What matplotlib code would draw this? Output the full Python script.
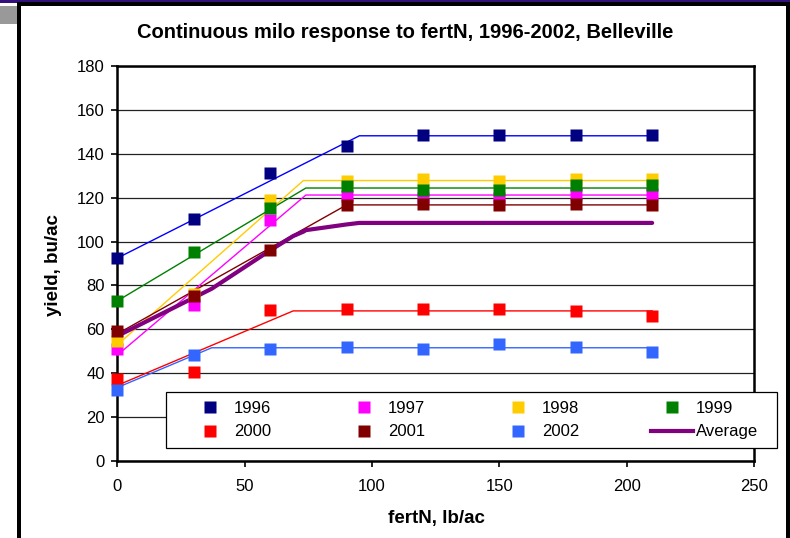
import matplotlib
matplotlib.use("Agg")
import matplotlib.pyplot as plt
from matplotlib.lines import Line2D
from matplotlib.patches import Rectangle

plt.rcParams['font.family'] = ['Liberation Sans', 'DejaVu Sans']

# Data
fert_n = [0, 30, 60, 90, 120, 150, 180, 210]
years = ['1996', '1997', '1998', '1999', '2000', '2001', '2002']
yields = {
    '1996': [92.4, 110.2, 131.1, 143.6, 148.4, 148.4, 148.4, 148.4],
    '1997': [51.0, 71.0, 110.0, 120.8, 120.0, 120.0, 121.5, 121.5],
    '1998': [54.7, 76.0, 119.0, 127.6, 128.6, 127.4, 128.6, 128.6],
    '1999': [72.9, 95.3, 115.2, 125.5, 123.3, 123.3, 126.0, 126.0],
    '2000': [37.4, 40.4, 68.8, 69.3, 69.3, 69.3, 68.5, 66.1],
    '2001': [59.2, 75.2, 96.2, 116.7, 116.9, 116.5, 116.9, 116.5],
    '2002': [32.2, 48.2, 51.2, 52.1, 51.2, 53.2, 52.0, 49.8],
}
# fitted linear-plateau lines: (x vertices, y vertices)
fit_x = {
    '1996': [0, 95, 210], '1997': [0, 74, 210], '1998': [0, 73, 210],
    '1999': [0, 74, 210], '2000': [0, 69, 210], '2001': [0, 90, 210],
    '2002': [0, 37, 210],
}
fit_y = {
    '1996': [92.5, 148.2, 148.2], '1997': [48.3, 121.2, 121.2],
    '1998': [53.0, 127.8, 127.8], '1999': [73.0, 124.4, 124.4],
    '2000': [34.5, 68.4, 68.4], '2001': [58.0, 116.7, 116.7],
    '2002': [33.5, 51.6, 51.6],
}
avg_x = [0, 37, 60, 69, 73, 74, 90, 95, 210]
avg_y = [57.0, 78.5, 96.0, 102.5, 104.5, 105.2, 107.8, 108.5, 108.5]

marker_colors = {'1996': '#000080', '1997': '#FF00FF', '1998': '#FFCC00',
                 '1999': '#008000', '2000': '#FF0000', '2001': '#800000',
                 '2002': '#3366FF'}
line_colors = {'1996': '#0000FF', '1997': '#FF00FF', '1998': '#FFCC00',
               '1999': '#008000', '2000': '#FF0000', '2001': '#800000',
               '2002': '#3366FF'}

W, H = 790, 538
fig = plt.figure(figsize=(W / 100, H / 100), dpi=100)
ax = fig.add_axes([117.5 / W, 1 - 461 / H, (754 - 117.5) / W, (461 - 66) / H])

for yr in years:
    ax.plot(fit_x[yr], fit_y[yr], color=line_colors[yr], lw=1.0, zorder=3)
ax.plot(avg_x, avg_y, color='#800080', lw=3.0, zorder=4, solid_capstyle='round')
for yr in years:
    ax.plot(fert_n, yields[yr], 's', color=marker_colors[yr], ms=8, mec='none',
            zorder=5, clip_on=False)

ax.set_xlim(0, 250)
ax.set_ylim(0, 180)
ax.set_xticks(range(0, 251, 50))
ax.set_yticks(range(0, 181, 20))
ax.yaxis.grid(True, color='#222222', lw=0.9)
ax.set_axisbelow(True)
for s in ax.spines.values():
    s.set_linewidth(1.8)
    s.set_color('black')
ax.tick_params(direction='out', length=4, width=1.2, labelsize=12, color='black')
ax.tick_params(axis='x', pad=9)
ax.tick_params(axis='y', pad=5)

fig.text(405 / W, 1 - 33 / H, 'Continuous milo response to fertN, 1996-2002, Belleville',
         ha='center', va='center', fontsize=14.5, fontweight='bold')
fig.text(54 / W, 1 - 265 / H, 'yield, bu/ac', rotation=90, ha='center', va='center',
         fontsize=13.5, fontweight='bold')
fig.text(436 / W, 1 - 518 / H, 'fertN, lb/ac', ha='center', va='center',
         fontsize=13.5, fontweight='bold')

# legend box
fig.add_artist(Rectangle((165.7 / W, 1 - 448.3 / H), 611 / W, 56 / H,
                         transform=fig.transFigure, facecolor='white',
                         edgecolor='black', lw=0.9, zorder=4))
order = ['1996', '1997', '1998', '1999', '2000', '2001', '2002']
handles = [Line2D([], [], ls='none', marker='s', ms=8, mec='none',
                  color=marker_colors[yr]) for yr in order]
handles.append(Line2D([], [], color='#800080', lw=3))
labels = order + ['Average']
# row-major ordering for ncol=4
idx = [0, 4, 1, 5, 2, 6, 3, 7]
leg = fig.legend([handles[i] for i in idx], [labels[i] for i in idx], ncol=4,
                 loc='center', mode='expand', frameon=False, fontsize=12,
                 handlelength=2.5, handletextpad=0.2, labelspacing=0.5,
                 borderpad=0.0, borderaxespad=0.0,
                 bbox_to_anchor=(189 / W, 1 - 448.3 / H, (758 - 189) / W, 56 / H))
leg.set_zorder(6)

# outer frame decorations
fig.add_artist(Rectangle((0, 1 - 2.5 / H), 1, 2.5 / H, transform=fig.transFigure,
                         facecolor='#33107a', edgecolor='none', zorder=10))
fig.add_artist(Rectangle((17 / W, 1 - 6 / H), (W - 17) / W, 3.5 / H,
                         transform=fig.transFigure, facecolor='black',
                         edgecolor='none', zorder=10))
fig.add_artist(Rectangle((17 / W, 0), 4 / W, 1 - 2.5 / H, transform=fig.transFigure,
                         facecolor='black', edgecolor='none', zorder=10))
fig.add_artist(Rectangle((786 / W, 0), 4 / W, 1 - 2.5 / H, transform=fig.transFigure,
                         facecolor='black', edgecolor='none', zorder=10))
fig.add_artist(Rectangle((0, 1 - 24 / H), 17 / W, 18 / H, transform=fig.transFigure,
                         facecolor='#999999', edgecolor='none', zorder=10))

fig.savefig('out.png', dpi=100)
